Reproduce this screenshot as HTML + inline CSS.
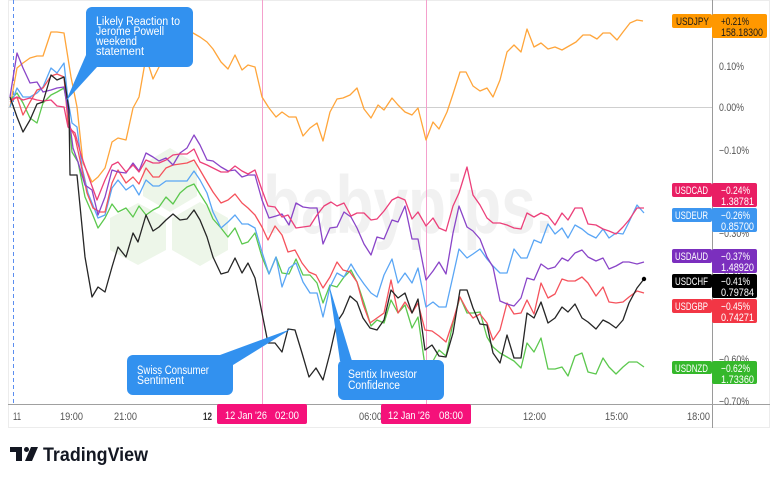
<!DOCTYPE html>
<html><head><meta charset="utf-8"><style>
html,body{margin:0;padding:0;background:#fff;width:780px;height:481px;overflow:hidden}
svg{display:block}
text{font-family:"Liberation Sans",sans-serif}
</style></head><body>
<svg width="780" height="481" viewBox="0 0 780 481" xmlns="http://www.w3.org/2000/svg">
<rect x="0" y="0" width="780" height="481" fill="#fff"/>
<rect x="8.5" y="0.5" width="761" height="427" fill="none" stroke="#ececec"/>
<!-- watermark -->
<g fill="#edf6e9">
<polygon points="138,203 166,218 166,250 138,265 110,250 110,218"/>
<polygon points="200,202 228,218 228,250 200,266 172,250 172,218"/>
<polygon points="170,148 197,164 197,196 170,212 143,196 143,164"/>
</g>
<text x="263" y="233" font-size="82" font-weight="bold" fill="#f1f1f1" textLength="290" lengthAdjust="spacingAndGlyphs">babypips.</text>
<!-- zero line -->
<line x1="8" y1="107.5" x2="712" y2="107.5" stroke="#cfcfcf" stroke-width="1"/>
<!-- vertical markers -->
<line x1="262.5" y1="0" x2="262.5" y2="404" stroke="#f4a0cc" stroke-width="1"/>
<line x1="426.5" y1="0" x2="426.5" y2="404" stroke="#f4a0cc" stroke-width="1"/>
<line x1="13.5" y1="0" x2="13.5" y2="404" stroke="#5b8ef0" stroke-width="1" stroke-dasharray="4,3"/>
<!-- series -->
<g fill="none" stroke-width="1.3" stroke-linejoin="round">
<polyline stroke="#ffa53a" points="10,107 17,68 23,63 30,58 37,56 43,56 51,32 57,32 64,33 71,77 77,107 83,163 92,182 98,177 105,168 112,142 118,138 126,140 133,108 139,97 146,57 153,79 159,67 166,59 173,37 180,33 187,34 193,33 200,37 207,42 213,49 221,62 228,69 235,55 242,70 248,65 255,67 262,97 269,108 276,117 282,112 289,117 296,117 303,136 310,128 317,123 323,141 330,112 337,99 343,98 350,95 357,88 364,109 371,118 378,105 384,110 392,98 398,105 405,112 412,115 418,108 426,140 433,122 439,129 447,112 453,94 460,72 466,72 473,86 480,91 487,88 493,97 500,80 507,52 514,45 521,52 527,29 534,47 541,43 548,49 555,47 562,50 569,46 576,42 583,35 590,35 597,39 603,33 610,33 617,40 623,32 630,23 637,20 643,21"/>
<polyline stroke="#5cc84e" points="10,100 17,93 23,103 30,118 37,123 43,103 51,95 57,92 64,88 68,110 72,152 78,162 85,197 92,213 98,228 105,218 112,204 118,212 126,208 133,217 139,206 146,215 153,210 159,207 166,197 173,204 180,193 187,187 194,184 200,194 207,205 213,219 221,228 228,237 235,228 242,244 248,242 255,233 262,257 269,274 276,257 282,273 289,274 296,259 303,275 310,275 317,283 323,303 330,285 337,287 344,277 351,270 357,282 364,303 371,326 377,320 384,323 391,300 398,313 405,305 412,328 418,317 426,373 433,361 439,350 446,356 453,323 460,297 467,313 473,313 480,312 487,337 493,347 500,353 507,357 514,361 521,368 527,343 534,352 541,338 548,369 555,369 562,367 568,376 575,356 582,353 588,372 596,374 603,358 609,367 616,374 623,367 629,362 637,362 644,367"/>
<polyline stroke="#5aa6f5" points="10,107 17,88 23,97 30,97 37,93 43,87 51,68 57,73 64,63 68,100 72,123 77,127 82,167 88,193 98,218 105,215 112,188 118,180 126,190 133,185 139,195 146,180 153,186 159,186 166,181 173,181 180,181 187,181 194,171 200,180 207,193 213,212 221,228 228,222 235,215 242,224 248,224 255,228 262,252 269,274 276,257 282,287 289,268 296,263 303,282 310,293 317,293 323,317 330,287 337,273 344,277 351,264 357,274 364,284 371,293 377,297 384,275 392,259 398,283 405,273 412,283 418,268 426,307 433,302 439,307 446,307 453,276 459,249 467,258 473,254 480,249 487,259 493,266 500,273 507,273 514,249 521,258 527,258 534,240 541,243 548,224 555,234 562,228 568,238 575,225 582,229 588,234 596,238 603,229 609,238 616,233 623,234 629,222 637,205 644,213"/>
<polyline stroke="#f5525c" points="10,102 17,97 23,115 30,102 37,90 43,88 51,76 57,74 64,77 68,123 75,137 80,160 87,193 93,208 100,212 105,212 112,183 118,170 126,183 133,177 139,184 146,168 153,177 159,177 166,168 173,165 180,164 187,163 194,160 200,170 207,182 213,192 221,203 228,200 235,194 242,203 248,208 255,215 262,227 268,240 275,226 282,235 288,252 295,250 302,263 309,272 316,275 323,288 330,277 337,262 343,270 350,272 357,282 363,304 370,323 377,318 384,313 391,280 398,313 405,302 412,313 418,303 425,330 432,331 439,336 446,342 453,321 460,297 467,310 473,318 480,314 487,323 493,340 500,330 507,303 514,314 521,313 527,300 534,314 541,283 548,298 555,294 562,279 568,281 575,281 582,277 588,283 596,296 603,287 609,302 616,303 623,302 629,297 637,291 644,293"/>
<polyline stroke="#8a45c8" points="10,97 17,53 23,68 30,83 37,82 43,92 51,90 57,88 64,87 68,110 73,148 78,162 85,185 92,190 98,215 105,197 112,170 118,172 126,173 133,163 139,171 146,153 153,157 159,161 166,158 173,165 180,153 187,148 194,135 200,145 207,160 213,161 221,167 228,171 235,170 242,177 248,175 255,175 262,200 269,218 276,216 282,214 289,225 296,203 303,207 310,208 317,208 323,244 330,228 337,227 344,212 351,217 357,228 364,244 371,255 377,237 384,239 392,220 398,222 405,206 412,239 418,239 426,280 433,271 439,262 446,274 453,233 459,206 467,227 473,231 480,239 487,257 493,267 500,301 507,304 514,306 521,298 527,278 534,280 541,264 548,269 555,267 562,258 568,261 575,253 582,250 588,257 596,261 603,258 609,269 616,266 623,262 629,262 637,264 644,262"/>
<polyline stroke="#ec407a" points="10,100 17,97 23,100 30,98 37,100 43,101 51,100 57,106 64,107 68,127 75,133 82,158 88,175 97,200 105,180 112,165 118,162 126,172 133,165 139,172 146,160 153,163 159,163 166,160 173,155 180,154 187,154 194,149 200,162 207,165 213,168 221,172 228,172 235,166 242,171 248,174 255,170 262,190 268,206 275,207 282,217 288,215 296,228 303,227 310,226 317,215 324,206 331,202 337,206 344,203 351,216 357,213 364,213 371,220 377,219 384,211 392,200 398,197 405,200 412,219 418,212 426,226 433,218 439,228 446,231 453,206 459,193 467,167 473,195 480,205 487,218 493,223 500,223 507,225 514,228 521,229 527,213 534,217 541,213 548,216 555,225 562,213 568,220 575,208 582,208 588,224 596,225 603,229 609,231 616,234 623,227 629,220 637,208 644,208"/>
<polyline stroke="#262626" points="10,97 17,117 23,132 30,120 37,104 43,102 51,75 57,80 64,77 69,110 70,175 77,175 85,257 92,297 98,287 105,292 112,267 118,247 126,257 133,233 138,242 146,215 153,231 159,227 166,220 173,214 180,220 187,219 194,210 200,220 207,237 213,257 221,274 228,272 235,258 242,273 248,263 255,278 262,313 268,343 275,343 282,352 288,329 295,330 302,353 309,377 316,368 323,380 330,353 337,322 343,313 350,296 357,302 363,318 370,328 377,330 384,320 391,290 398,298 405,293 412,313 418,299 425,350 432,345 439,356 446,357 453,333 460,290 467,290 473,308 480,324 487,325 493,353 500,363 507,335 514,358 521,358 527,313 534,318 541,302 548,323 555,318 562,307 568,312 575,304 582,318 588,322 596,329 603,320 609,323 616,328 623,320 629,303 637,288 644,279"/>
</g>
<circle cx="644" cy="279" r="2.2" fill="#000"/>
<!-- callouts -->
<g fill="#3291ef">
<rect x="86" y="7" width="107" height="60" rx="6"/>
<polygon points="86,55 97,67 66,101"/>
<rect x="127" y="355" width="106" height="40" rx="6"/>
<polygon points="220,355 233,365 291,329"/>
<rect x="338" y="360" width="106" height="40" rx="6"/>
<polygon points="329,285 340,361 352,361"/>
</g>
<g fill="#fff" font-size="11.5">
<text x="96" y="25" textLength="84" lengthAdjust="spacingAndGlyphs">Likely Reaction to</text>
<text x="96" y="35" textLength="68" lengthAdjust="spacingAndGlyphs">Jerome Powell</text>
<text x="96" y="45" textLength="41" lengthAdjust="spacingAndGlyphs">weekend</text>
<text x="96" y="55" textLength="48" lengthAdjust="spacingAndGlyphs">statement</text>
<text x="137" y="374" textLength="72" lengthAdjust="spacingAndGlyphs">Swiss Consumer</text>
<text x="137" y="384" textLength="47" lengthAdjust="spacingAndGlyphs">Sentiment</text>
<text x="348" y="378" textLength="69" lengthAdjust="spacingAndGlyphs">Sentix Investor</text>
<text x="348" y="389" textLength="52" lengthAdjust="spacingAndGlyphs">Confidence</text>
</g>
<!-- axes -->
<line x1="712.5" y1="0" x2="712.5" y2="428" stroke="#9a9a9a" stroke-width="1"/>
<line x1="8" y1="404.5" x2="770" y2="404.5" stroke="#a0a0a0" stroke-width="1"/>
<g fill="#555" font-size="11">
<text x="719" y="70" textLength="25" lengthAdjust="spacingAndGlyphs">0.10%</text>
<text x="719" y="111" textLength="25" lengthAdjust="spacingAndGlyphs">0.00%</text>
<text x="719" y="154" textLength="30" lengthAdjust="spacingAndGlyphs">−0.10%</text>
<text x="719" y="195" textLength="30" lengthAdjust="spacingAndGlyphs">−0.20%</text>
<text x="719" y="237" textLength="30" lengthAdjust="spacingAndGlyphs">−0.30%</text>
<text x="719" y="279" textLength="30" lengthAdjust="spacingAndGlyphs">−0.40%</text>
<text x="719" y="321" textLength="30" lengthAdjust="spacingAndGlyphs">−0.50%</text>
<text x="719" y="363" textLength="30" lengthAdjust="spacingAndGlyphs">−0.60%</text>
<text x="719" y="405" textLength="30" lengthAdjust="spacingAndGlyphs">−0.70%</text>
</g>
<g fill="#555" font-size="11">
<text x="13" y="420" textLength="8" lengthAdjust="spacingAndGlyphs">11</text>
<text x="60" y="420" textLength="23" lengthAdjust="spacingAndGlyphs">19:00</text>
<text x="114" y="420" textLength="23" lengthAdjust="spacingAndGlyphs">21:00</text>
<text x="203" y="420" font-weight="bold" fill="#333" textLength="9" lengthAdjust="spacingAndGlyphs">12</text>
<text x="359" y="420" textLength="23" lengthAdjust="spacingAndGlyphs">06:00</text>
<text x="523" y="420" textLength="23" lengthAdjust="spacingAndGlyphs">12:00</text>
<text x="605" y="420" textLength="23" lengthAdjust="spacingAndGlyphs">15:00</text>
<text x="687" y="420" textLength="23" lengthAdjust="spacingAndGlyphs">18:00</text>
</g>
<rect x="217" y="404" width="90" height="20" rx="2" fill="#f5117a"/>
<rect x="381" y="404" width="90" height="20" rx="2" fill="#f5117a"/>
<g fill="#fff" font-size="11">
<text x="225" y="419" textLength="42" lengthAdjust="spacingAndGlyphs">12 Jan '26</text>
<text x="275" y="419" textLength="24" lengthAdjust="spacingAndGlyphs">02:00</text>
<text x="388" y="419" textLength="42" lengthAdjust="spacingAndGlyphs">12 Jan '26</text>
<text x="439" y="419" textLength="24" lengthAdjust="spacingAndGlyphs">08:00</text>
</g>
<!-- right labels -->
<g font-size="11">
<rect x="672" y="14" width="40" height="14" rx="2" fill="#ff9800"/>
<rect x="712" y="14" width="55" height="24" rx="2" fill="#ff9800"/>
<text x="676" y="25" fill="#1a1a1a" textLength="33" lengthAdjust="spacingAndGlyphs">USDJPY</text>
<text x="721" y="25" fill="#1a1a1a" textLength="28" lengthAdjust="spacingAndGlyphs">+0.21%</text>
<text x="721" y="36" fill="#1a1a1a" textLength="42" lengthAdjust="spacingAndGlyphs">158.18300</text>

<rect x="672" y="183" width="40" height="14" rx="2" fill="#e91e63"/>
<rect x="712" y="183" width="45" height="24" rx="2" fill="#e91e63"/>
<text x="675" y="194" fill="#fff" textLength="33" lengthAdjust="spacingAndGlyphs">USDCAD</text>
<text x="721" y="194" fill="#fff" textLength="29" lengthAdjust="spacingAndGlyphs">−0.24%</text>
<text x="721" y="205" fill="#fff" textLength="33" lengthAdjust="spacingAndGlyphs">1.38781</text>

<rect x="672" y="208" width="40" height="14" rx="2" fill="#3d96f0"/>
<rect x="712" y="208" width="45" height="24" rx="2" fill="#3d96f0"/>
<text x="675" y="219" fill="#fff" textLength="33" lengthAdjust="spacingAndGlyphs">USDEUR</text>
<text x="721" y="219" fill="#fff" textLength="29" lengthAdjust="spacingAndGlyphs">−0.26%</text>
<text x="721" y="230" fill="#fff" textLength="33" lengthAdjust="spacingAndGlyphs">0.85700</text>

<rect x="672" y="249" width="40" height="14" rx="2" fill="#7b2fbe"/>
<rect x="712" y="249" width="45" height="24" rx="2" fill="#7b2fbe"/>
<text x="675" y="260" fill="#fff" textLength="33" lengthAdjust="spacingAndGlyphs">USDAUD</text>
<text x="721" y="260" fill="#fff" textLength="29" lengthAdjust="spacingAndGlyphs">−0.37%</text>
<text x="721" y="271" fill="#fff" textLength="33" lengthAdjust="spacingAndGlyphs">1.48920</text>

<rect x="672" y="274" width="40" height="14" rx="2" fill="#000"/>
<rect x="712" y="274" width="45" height="24" rx="2" fill="#000"/>
<text x="675" y="285" fill="#fff" textLength="33" lengthAdjust="spacingAndGlyphs">USDCHF</text>
<text x="721" y="285" fill="#fff" textLength="29" lengthAdjust="spacingAndGlyphs">−0.41%</text>
<text x="721" y="296" fill="#fff" textLength="33" lengthAdjust="spacingAndGlyphs">0.79784</text>

<rect x="672" y="299" width="40" height="14" rx="2" fill="#f23645"/>
<rect x="712" y="299" width="45" height="24" rx="2" fill="#f23645"/>
<text x="675" y="310" fill="#fff" textLength="33" lengthAdjust="spacingAndGlyphs">USDGBP</text>
<text x="721" y="310" fill="#fff" textLength="29" lengthAdjust="spacingAndGlyphs">−0.45%</text>
<text x="721" y="321" fill="#fff" textLength="33" lengthAdjust="spacingAndGlyphs">0.74271</text>

<rect x="672" y="361" width="40" height="13" rx="2" fill="#35b82b"/>
<rect x="712" y="361" width="45" height="23" rx="2" fill="#35b82b"/>
<text x="675" y="372" fill="#fff" textLength="33" lengthAdjust="spacingAndGlyphs">USDNZD</text>
<text x="721" y="372" fill="#fff" textLength="29" lengthAdjust="spacingAndGlyphs">−0.62%</text>
<text x="721" y="383" fill="#fff" textLength="33" lengthAdjust="spacingAndGlyphs">1.73360</text>
</g>
<!-- TradingView logo -->
<g fill="#131722">
<path d="M10,447 H22 V461 H16 V452 H10 Z"/>
<circle cx="26.5" cy="449.5" r="2.5"/>
<path d="M31,447 H38 L32,461 H25 Z"/>
</g>
<text x="43" y="461" font-size="19" font-weight="bold" fill="#131722" textLength="105" lengthAdjust="spacingAndGlyphs">TradingView</text>
</svg>
</body></html>
